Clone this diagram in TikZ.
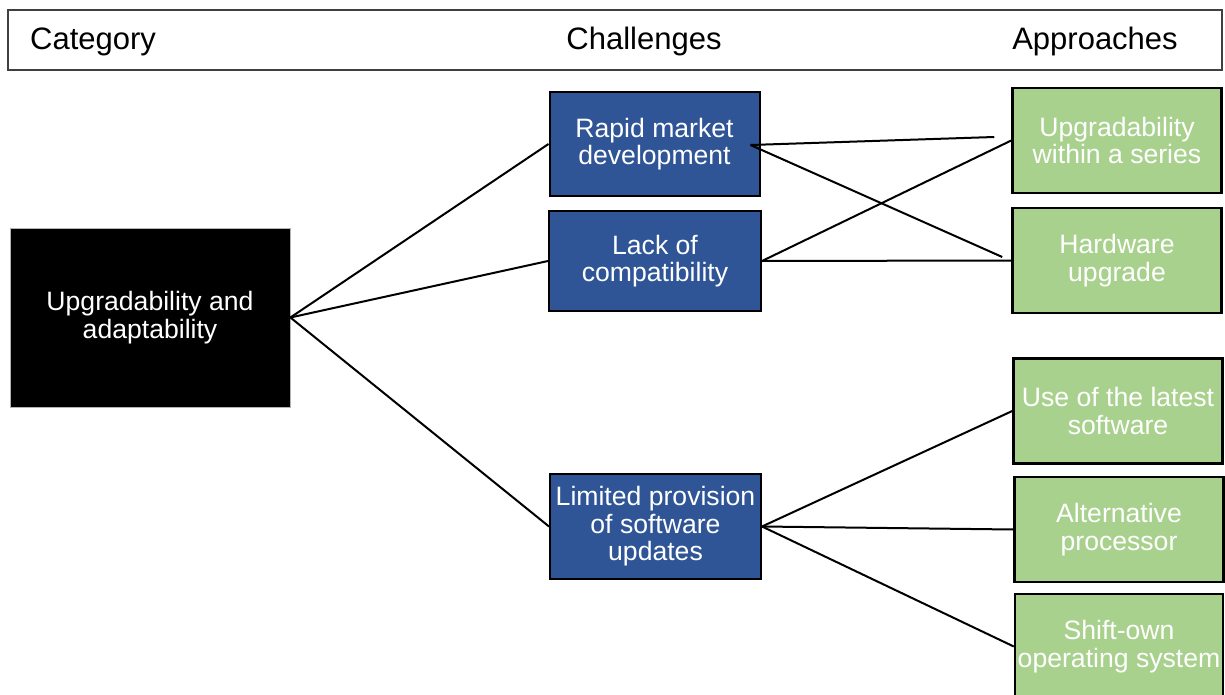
\documentclass[tikz,border=0pt]{standalone}
\usepackage{fontspec}
\setmainfont{Liberation Sans}
\usetikzlibrary{calc}
\definecolor{boxblue}{HTML}{2F5597}
\definecolor{boxgreen}{HTML}{A9D18E}
\definecolor{hdrgray}{HTML}{404040}
\begin{document}
\begin{tikzpicture}[x=1pt,y=-1pt,
  boxtext/.style={font=\fontsize{26.6}{27.5}\selectfont, text=white, align=center, inner sep=0pt},
  catbox/.style={boxtext, fill=black, draw=gray!60, line width=0.8pt, minimum width=280pt, minimum height=179pt},
  chalbox/.style={boxtext, fill=boxblue, draw=black, line width=2pt, minimum width=210pt, minimum height=104pt},
  apprbox/.style={boxtext, fill=boxgreen, draw=black, line width=2.5pt, minimum width=209pt, minimum height=105pt},
  link/.style={line width=2pt, draw=black},
  hdrbox/.style={draw=hdrgray, line width=1.3pt, fill=white, inner sep=0pt, minimum width=1214pt, minimum height=60pt},
  hdr/.style={font=\fontsize{31}{31}\selectfont, inner sep=0pt}]
\useasboundingbox (0,0) rectangle (1225,695);
\clip (0,0) rectangle (1225,695);
\fill[white] (0,0) rectangle (1225,695);

% header
\node[hdrbox] (header) at (615,40) {};
\node[hdr, anchor=base west] (hcat) at (30,50) {Category};
\node[hdr, anchor=base] (hchal) at (644,50) {Challenges};
\node[hdr, anchor=base] (happr) at (1095,50) {Approaches};

% category
\node[catbox] (cat) at (150,317.5) {Upgradability and\\adaptability};

% challenges
\node[chalbox] (c1) at (654.5,144) {Rapid market\\development};
\node[chalbox, minimum width=212pt, minimum height=100pt] (c2) at (655,261) {Lack of\\compatibility};
\node[chalbox, minimum width=211pt, minimum height=105pt] (c3) at (655.5,526.5) {Limited provision\\of software\\updates};

% approaches
\node[apprbox] (a1) at (1117,140.5) {Upgradability\\within a series};
\node[apprbox] (a2) at (1117,260.5) {Hardware\\upgrade};
\node[apprbox] (a3) at (1118,411) {Use of the latest\\software};
\node[apprbox] (a4) at (1119,529.5) {Alternative\\processor};
\node[apprbox, minimum width=208pt] (a5) at (1119,646.5) {Shift-own\\operating system};

% free ends of the crossing connectors
\coordinate (c1in) at ($(c1.east)+(-10,1)$);
\coordinate (a1end) at ($(a1.west)+(-17,-3.5)$);
\coordinate (a2end) at ($(a2.west)+(-9,-3.5)$);

% connectors
\draw[link] (cat.east) -- (c1.west);
\draw[link] (cat.east) -- (c2.west);
\draw[link] (cat.east) -- (c3.west);
\draw[link] (c1in) -- (a1end);
\draw[link] (c1in) -- (a2end);
\draw[link] (c2.east) -- (a1.west);
\draw[link] (c2.east) -- (a2.west);
\draw[link] (c3.east) -- (a3.west);
\draw[link] (c3.east) -- (a4.west);
\draw[link] (c3.east) -- (a5.west);
\end{tikzpicture}
\end{document}
